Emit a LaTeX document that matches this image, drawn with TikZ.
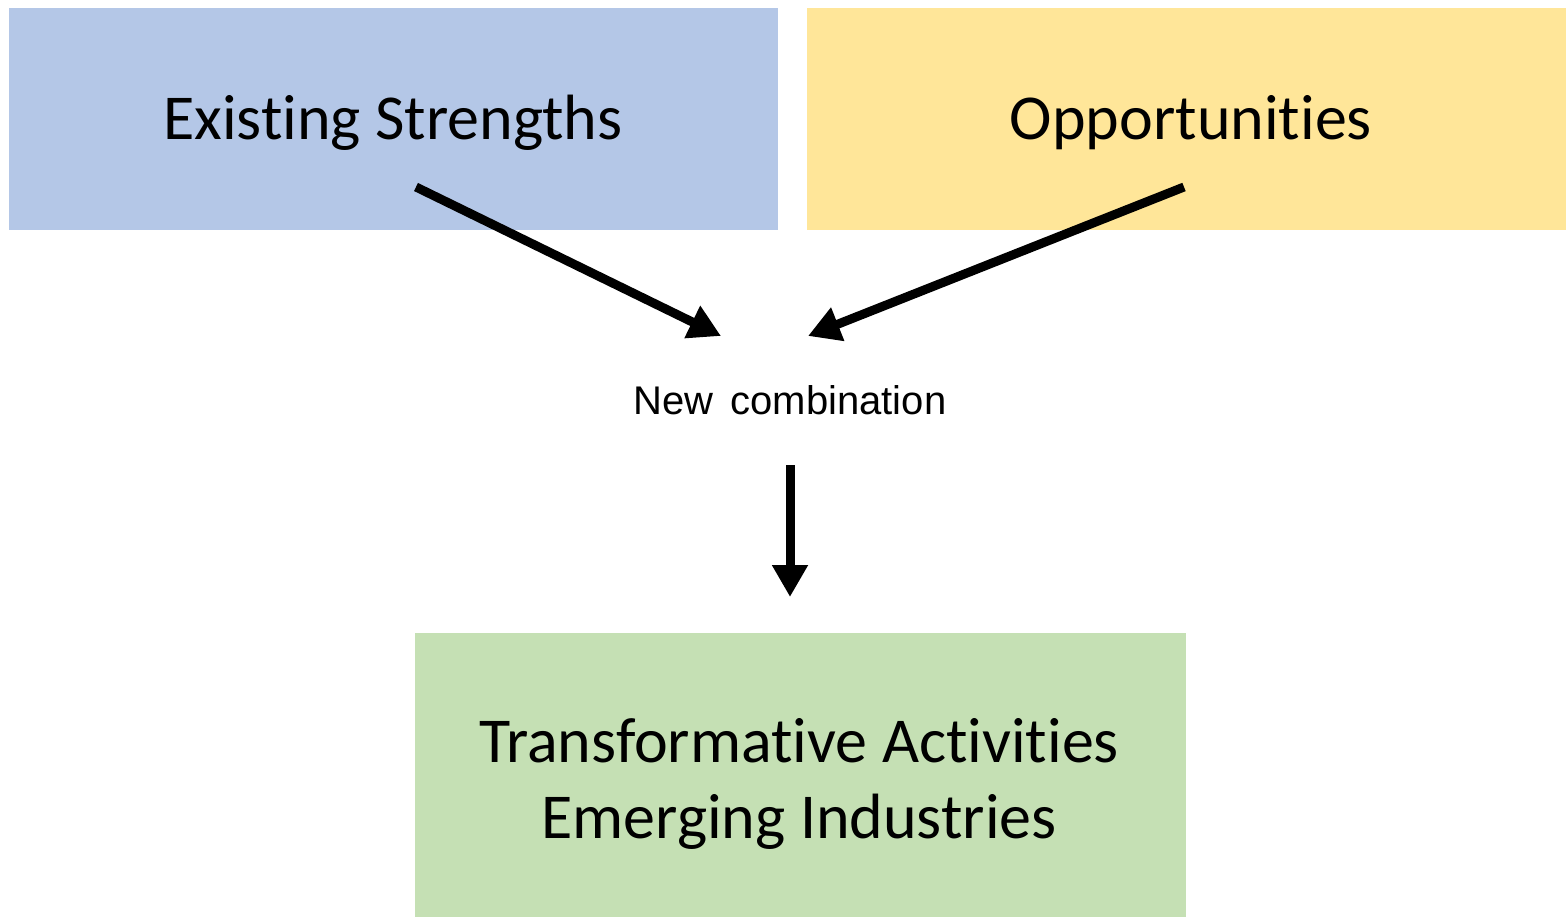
\documentclass[tikz,border=0pt]{standalone}
\usepackage{fontspec}
\setmainfont{Carlito}[Ligatures={NoCommon,NoRare}]
\newfontfamily\arialfont{Liberation Sans}
\usetikzlibrary{arrows.meta, positioning, calc}
\definecolor{strengthblue}{RGB}{180,199,231}
\definecolor{opportyellow}{RGB}{255,230,153}
\definecolor{outcomegreen}{RGB}{197,224,180}

\begin{document}
\begin{tikzpicture}[x=1pt, y=-1pt,
    box/.style={rectangle, inner sep=0pt, align=center, font=\fontsize{64}{78}\selectfont},
    flow/.style={line width=9pt, -{Triangle[length=32pt, width=34pt]}}]
    % Frame
    \useasboundingbox (0,0) rectangle (1566,917);
    % Boxes
    \node[box, fill=strengthblue, minimum width=769pt, minimum height=222pt] (strengths) at (393.5,119) {};
    \node[box, fill=opportyellow, minimum width=759pt, minimum height=222pt] (opportunities) at (1186.5,119) {};
    \node[box, fill=outcomegreen, minimum width=771pt, minimum height=290pt] (outcome) at (800.5,778) {};
    % Box texts
    \node[box, anchor=base] (strengths-text) at (393,140) {Existing Strengths};
    \node[box, anchor=base] (opportunities-text) at (1191,140) {Opportunities};
    \node[box, anchor=base] (outcome-text) at (799,762) {Transformative Activities};
    \node[box, anchor=base] (outcome-text2) at (799,838) {Emerging Industries};
    % Middle label
    \node[font=\arialfont\fontsize{40}{48}\selectfont, anchor=base] (combination) at (790,414) {New\hspace{0.15em} combination};
    % Arrow ends
    \coordinate (s-tail) at (416,187);
    \coordinate (s-head) at (721,336);
    \coordinate (o-tail) at (1184,187);
    \coordinate (o-head) at (808,336);
    \coordinate (c-tail) at (790,465);
    \coordinate (c-head) at (790,597);
    % Arrows
    \draw[flow] (s-tail) -- (s-head);
    \draw[flow] (o-tail) -- (o-head);
    \draw[flow] (c-tail) -- (c-head);
\end{tikzpicture}
\end{document}
